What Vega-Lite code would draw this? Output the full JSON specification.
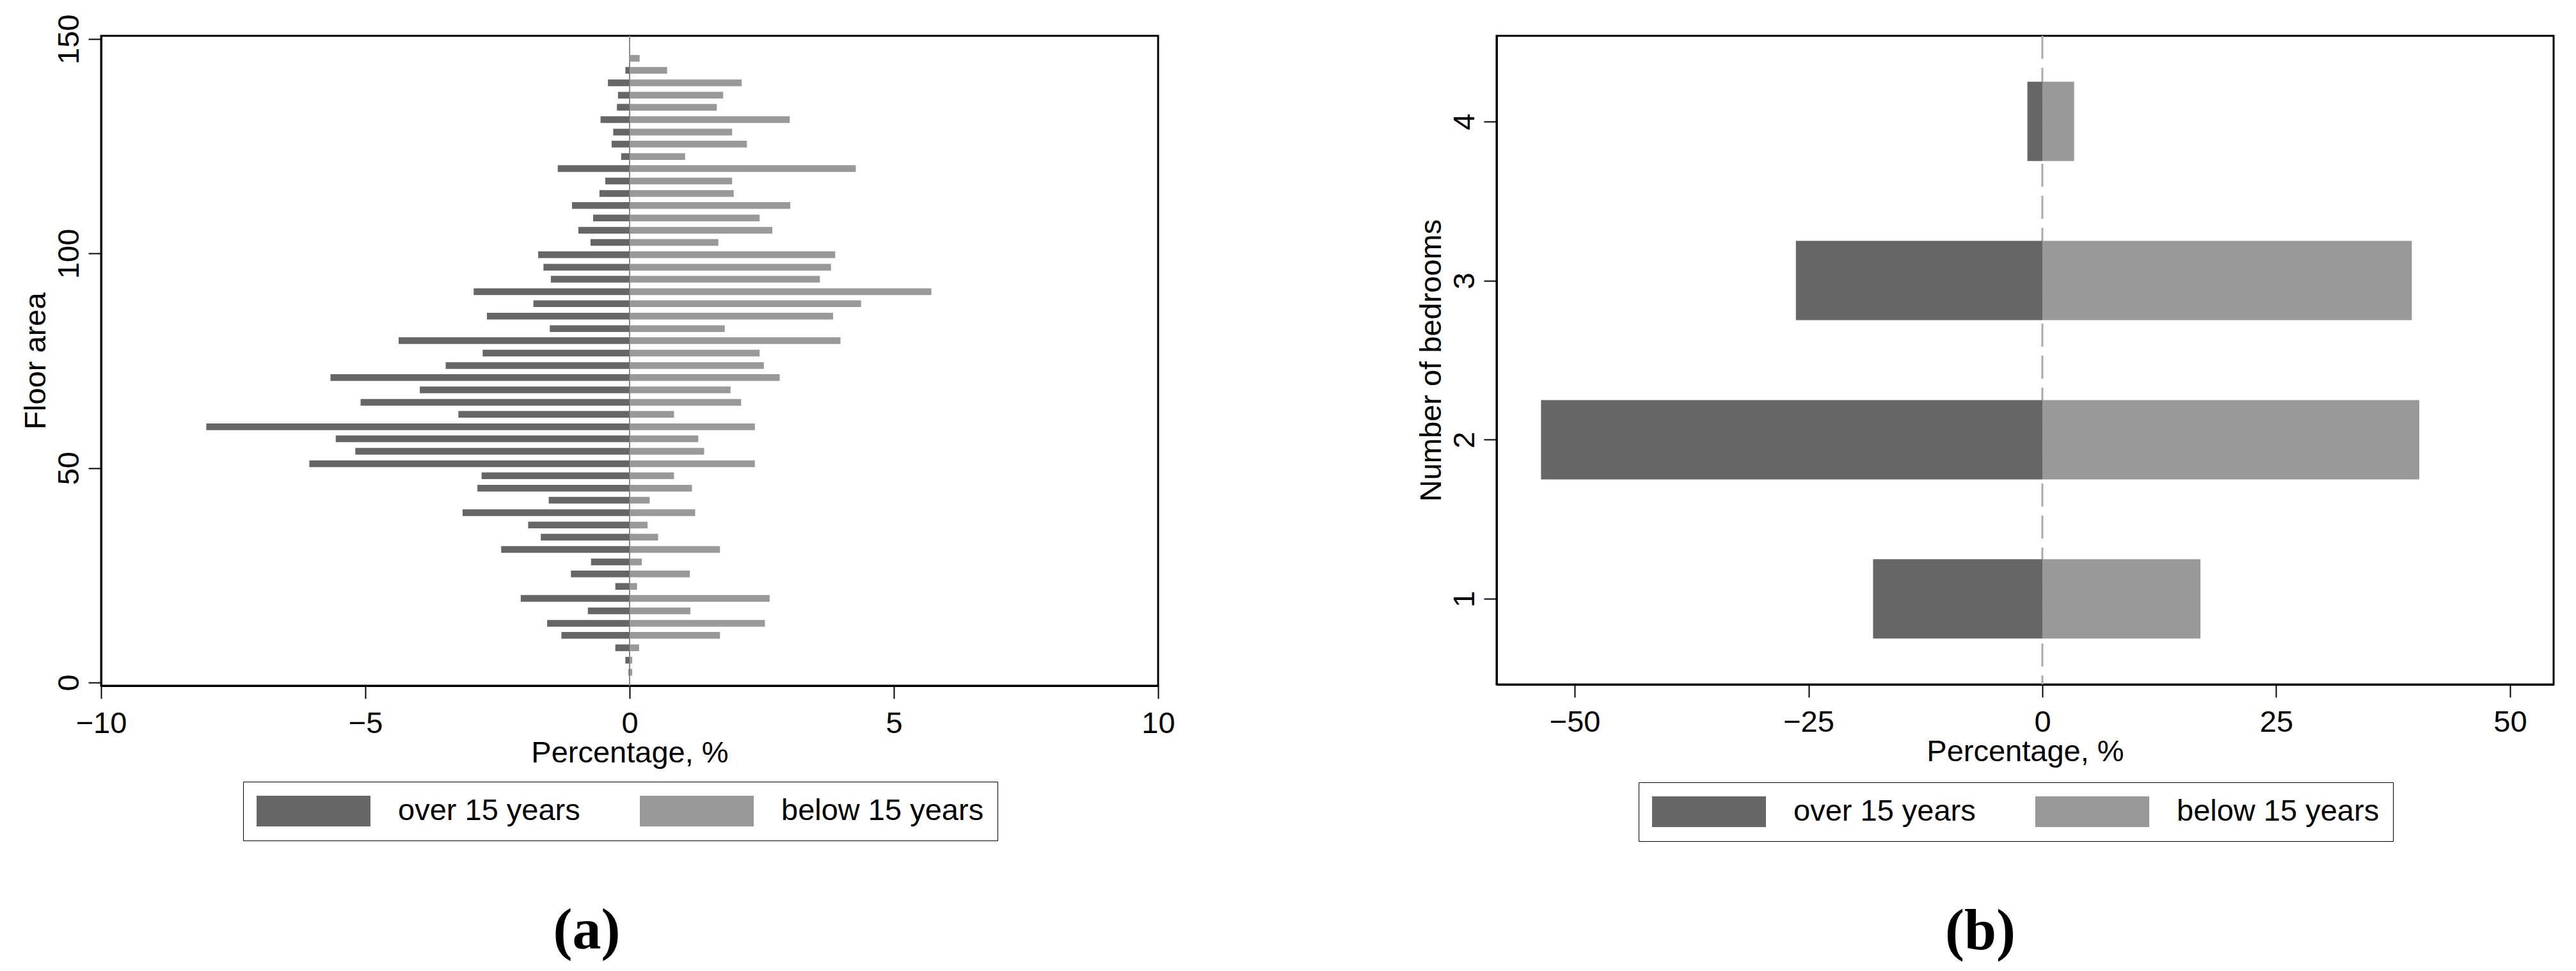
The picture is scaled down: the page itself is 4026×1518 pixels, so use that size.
{
  "$schema": "https://vega.github.io/schema/vega-lite/v6.json",
  "background": "white",
  "padding": {"left": 30, "top": 20, "right": 5, "bottom": 5},
  "bounds": "flush",
  "spacing": 529,
  "datasets": {
    "floor": [
      {"area": 145.5, "group": "over 15 years", "pct": 0.0}, {"area": 145.5, "group": "below 15 years", "pct": 0.19},
      {"area": 142.7, "group": "over 15 years", "pct": -0.08}, {"area": 142.7, "group": "below 15 years", "pct": 0.71},
      {"area": 139.8, "group": "over 15 years", "pct": -0.41}, {"area": 139.8, "group": "below 15 years", "pct": 2.12},
      {"area": 136.9, "group": "over 15 years", "pct": -0.22}, {"area": 136.9, "group": "below 15 years", "pct": 1.77},
      {"area": 134.1, "group": "over 15 years", "pct": -0.24}, {"area": 134.1, "group": "below 15 years", "pct": 1.65},
      {"area": 131.2, "group": "over 15 years", "pct": -0.55}, {"area": 131.2, "group": "below 15 years", "pct": 3.03},
      {"area": 128.3, "group": "over 15 years", "pct": -0.31}, {"area": 128.3, "group": "below 15 years", "pct": 1.94},
      {"area": 125.5, "group": "over 15 years", "pct": -0.34}, {"area": 125.5, "group": "below 15 years", "pct": 2.22},
      {"area": 122.6, "group": "over 15 years", "pct": -0.16}, {"area": 122.6, "group": "below 15 years", "pct": 1.05},
      {"area": 119.8, "group": "over 15 years", "pct": -1.36}, {"area": 119.8, "group": "below 15 years", "pct": 4.28},
      {"area": 116.9, "group": "over 15 years", "pct": -0.46}, {"area": 116.9, "group": "below 15 years", "pct": 1.94},
      {"area": 114.0, "group": "over 15 years", "pct": -0.57}, {"area": 114.0, "group": "below 15 years", "pct": 1.97},
      {"area": 111.2, "group": "over 15 years", "pct": -1.09}, {"area": 111.2, "group": "below 15 years", "pct": 3.04},
      {"area": 108.3, "group": "over 15 years", "pct": -0.69}, {"area": 108.3, "group": "below 15 years", "pct": 2.46},
      {"area": 105.4, "group": "over 15 years", "pct": -0.97}, {"area": 105.4, "group": "below 15 years", "pct": 2.70},
      {"area": 102.6, "group": "over 15 years", "pct": -0.74}, {"area": 102.6, "group": "below 15 years", "pct": 1.68},
      {"area": 99.7, "group": "over 15 years", "pct": -1.73}, {"area": 99.7, "group": "below 15 years", "pct": 3.89},
      {"area": 96.8, "group": "over 15 years", "pct": -1.63}, {"area": 96.8, "group": "below 15 years", "pct": 3.81},
      {"area": 94.0, "group": "over 15 years", "pct": -1.49}, {"area": 94.0, "group": "below 15 years", "pct": 3.60},
      {"area": 91.1, "group": "over 15 years", "pct": -2.95}, {"area": 91.1, "group": "below 15 years", "pct": 5.71},
      {"area": 88.3, "group": "over 15 years", "pct": -1.82}, {"area": 88.3, "group": "below 15 years", "pct": 4.38},
      {"area": 85.4, "group": "over 15 years", "pct": -2.70}, {"area": 85.4, "group": "below 15 years", "pct": 3.85},
      {"area": 82.5, "group": "over 15 years", "pct": -1.51}, {"area": 82.5, "group": "below 15 years", "pct": 1.80},
      {"area": 79.7, "group": "over 15 years", "pct": -4.37}, {"area": 79.7, "group": "below 15 years", "pct": 3.99},
      {"area": 76.8, "group": "over 15 years", "pct": -2.78}, {"area": 76.8, "group": "below 15 years", "pct": 2.46},
      {"area": 73.9, "group": "over 15 years", "pct": -3.48}, {"area": 73.9, "group": "below 15 years", "pct": 2.54},
      {"area": 71.1, "group": "over 15 years", "pct": -5.66}, {"area": 71.1, "group": "below 15 years", "pct": 2.84},
      {"area": 68.2, "group": "over 15 years", "pct": -3.97}, {"area": 68.2, "group": "below 15 years", "pct": 1.91},
      {"area": 65.3, "group": "over 15 years", "pct": -5.09}, {"area": 65.3, "group": "below 15 years", "pct": 2.11},
      {"area": 62.5, "group": "over 15 years", "pct": -3.24}, {"area": 62.5, "group": "below 15 years", "pct": 0.84},
      {"area": 59.6, "group": "over 15 years", "pct": -8.01}, {"area": 59.6, "group": "below 15 years", "pct": 2.37},
      {"area": 56.8, "group": "over 15 years", "pct": -5.56}, {"area": 56.8, "group": "below 15 years", "pct": 1.30},
      {"area": 53.9, "group": "over 15 years", "pct": -5.19}, {"area": 53.9, "group": "below 15 years", "pct": 1.41},
      {"area": 51.0, "group": "over 15 years", "pct": -6.06}, {"area": 51.0, "group": "below 15 years", "pct": 2.37},
      {"area": 48.2, "group": "over 15 years", "pct": -2.80}, {"area": 48.2, "group": "below 15 years", "pct": 0.84},
      {"area": 45.3, "group": "over 15 years", "pct": -2.88}, {"area": 45.3, "group": "below 15 years", "pct": 1.18},
      {"area": 42.5, "group": "over 15 years", "pct": -1.53}, {"area": 42.5, "group": "below 15 years", "pct": 0.38},
      {"area": 39.6, "group": "over 15 years", "pct": -3.16}, {"area": 39.6, "group": "below 15 years", "pct": 1.24},
      {"area": 36.7, "group": "over 15 years", "pct": -1.92}, {"area": 36.7, "group": "below 15 years", "pct": 0.34},
      {"area": 33.9, "group": "over 15 years", "pct": -1.68}, {"area": 33.9, "group": "below 15 years", "pct": 0.54},
      {"area": 31.0, "group": "over 15 years", "pct": -2.43}, {"area": 31.0, "group": "below 15 years", "pct": 1.71},
      {"area": 28.1, "group": "over 15 years", "pct": -0.73}, {"area": 28.1, "group": "below 15 years", "pct": 0.23},
      {"area": 25.3, "group": "over 15 years", "pct": -1.11}, {"area": 25.3, "group": "below 15 years", "pct": 1.14},
      {"area": 22.4, "group": "over 15 years", "pct": -0.27}, {"area": 22.4, "group": "below 15 years", "pct": 0.14},
      {"area": 19.6, "group": "over 15 years", "pct": -2.06}, {"area": 19.6, "group": "below 15 years", "pct": 2.65},
      {"area": 16.7, "group": "over 15 years", "pct": -0.79}, {"area": 16.7, "group": "below 15 years", "pct": 1.15},
      {"area": 13.8, "group": "over 15 years", "pct": -1.56}, {"area": 13.8, "group": "below 15 years", "pct": 2.56},
      {"area": 11.0, "group": "over 15 years", "pct": -1.29}, {"area": 11.0, "group": "below 15 years", "pct": 1.71},
      {"area": 8.1, "group": "over 15 years", "pct": -0.27}, {"area": 8.1, "group": "below 15 years", "pct": 0.18},
      {"area": 5.2, "group": "over 15 years", "pct": -0.08}, {"area": 5.2, "group": "below 15 years", "pct": 0.05},
      {"area": 2.4, "group": "over 15 years", "pct": -0.02}, {"area": 2.4, "group": "below 15 years", "pct": 0.05}
    ],
    "bedrooms": [
      {"bedrooms": 1, "group": "over 15 years", "pct": -18.1}, {"bedrooms": 1, "group": "below 15 years", "pct": 16.9},
      {"bedrooms": 2, "group": "over 15 years", "pct": -53.6}, {"bedrooms": 2, "group": "below 15 years", "pct": 40.3},
      {"bedrooms": 3, "group": "over 15 years", "pct": -26.35}, {"bedrooms": 3, "group": "below 15 years", "pct": 39.5},
      {"bedrooms": 4, "group": "over 15 years", "pct": -1.6}, {"bedrooms": 4, "group": "below 15 years", "pct": 3.4}
    ],
    "zero": [{"ref": 0}]
  },
  "resolve": {"legend": {"color": "independent"}},
  "config": {
    "view": {"stroke": "#000000", "strokeWidth": 3},
    "axis": {
      "grid": false,
      "domainColor": "#000000", "domainWidth": 3,
      "tickColor": "#000000", "tickWidth": 2, "tickSize": 20,
      "labelFont": "Liberation Sans", "labelFontSize": 47, "labelColor": "#000000",
      "titleFont": "Liberation Sans", "titleFontSize": 47, "titleFontWeight": "normal", "titleColor": "#000000"
    },
    "axisX": {"labelPadding": 16, "titlePadding": 0, "labelFlush": false, "format": "d"},
    "axisY": {"labelPadding": 6, "titlePadding": 4, "labelAngle": -90, "labelAlign": "center", "labelBaseline": "bottom", "format": "d"},
    "legend": {
      "orient": "none", "direction": "horizontal", "title": null,
      "symbolType": "M-1,-0.27H1V0.27H-1Z", "symbolSize": 31684, "symbolStrokeWidth": 0, "symbolOpacity": 1,
      "clipHeight": 50,
      "labelFont": "Liberation Sans", "labelFontSize": 47, "labelColor": "#000000", "labelOffset": 43, "labelLimit": 1000,
      "columnPadding": 93, "padding": 21, "strokeColor": "#000000"
    },
    "title": {"font": "Liberation Serif", "fontSize": 90, "fontWeight": "bold", "color": "#000000"}
  },
  "hconcat": [
    {
      "width": 1652, "height": 1016,
      "title": {"text": "(a)", "orient": "bottom", "anchor": "middle", "dx": -67, "offset": 97},
      "layer": [
        {
          "data": {"name": "zero"},
          "mark": {"type": "rule", "color": "#8a8a8a", "strokeWidth": 2},
          "encoding": {"x": {"field": "ref", "type": "quantitative"}}
        },
        {
          "data": {"name": "floor"},
          "mark": {"type": "bar", "orient": "horizontal", "size": 10.5},
          "encoding": {
            "y": {"field": "area", "type": "quantitative", "scale": {"domain": [0, 150], "nice": false, "zero": false},
                  "axis": {"values": [0, 50, 100, 150], "title": "Floor area"}},
            "x": {"field": "pct", "type": "quantitative", "stack": null, "scale": {"domain": [-10, 10], "nice": false},
                  "axis": {"values": [-10, -5, 0, 5, 10], "title": "Percentage, %"}},
            "color": {"field": "group", "type": "nominal",
                      "scale": {"domain": ["over 15 years", "below 15 years"], "range": ["#666666", "#999999"]},
                      "legend": {"legendX": 222, "legendY": 1166}}
          }
        }
      ]
    },
    {
      "width": 1652, "height": 1014,
      "title": {"text": "(b)", "orient": "bottom", "anchor": "middle", "dx": -70, "offset": 97},
      "layer": [
        {
          "data": {"name": "zero"},
          "mark": {"type": "rule", "color": "#aaaaaa", "strokeWidth": 3, "strokeDash": [36, 14]},
          "encoding": {"x": {"field": "ref", "type": "quantitative"}}
        },
        {
          "data": {"name": "bedrooms"},
          "mark": {"type": "bar", "orient": "horizontal", "size": 124},
          "encoding": {
            "y": {"field": "bedrooms", "type": "quantitative", "scale": {"domain": [0.482, 4.518], "nice": false, "zero": false},
                  "axis": {"values": [1, 2, 3, 4], "title": "Number of bedrooms"}},
            "x": {"field": "pct", "type": "quantitative", "stack": null, "scale": {"domain": [-58.35, 54.66], "nice": false},
                  "axis": {"values": [-50, -25, 0, 25, 50], "title": "Percentage, %"}},
            "color": {"field": "group", "type": "nominal",
                      "scale": {"domain": ["over 15 years", "below 15 years"], "range": ["#666666", "#999999"]},
                      "legend": {"legendX": 222, "legendY": 1167}}
          }
        }
      ]
    }
  ]
}
